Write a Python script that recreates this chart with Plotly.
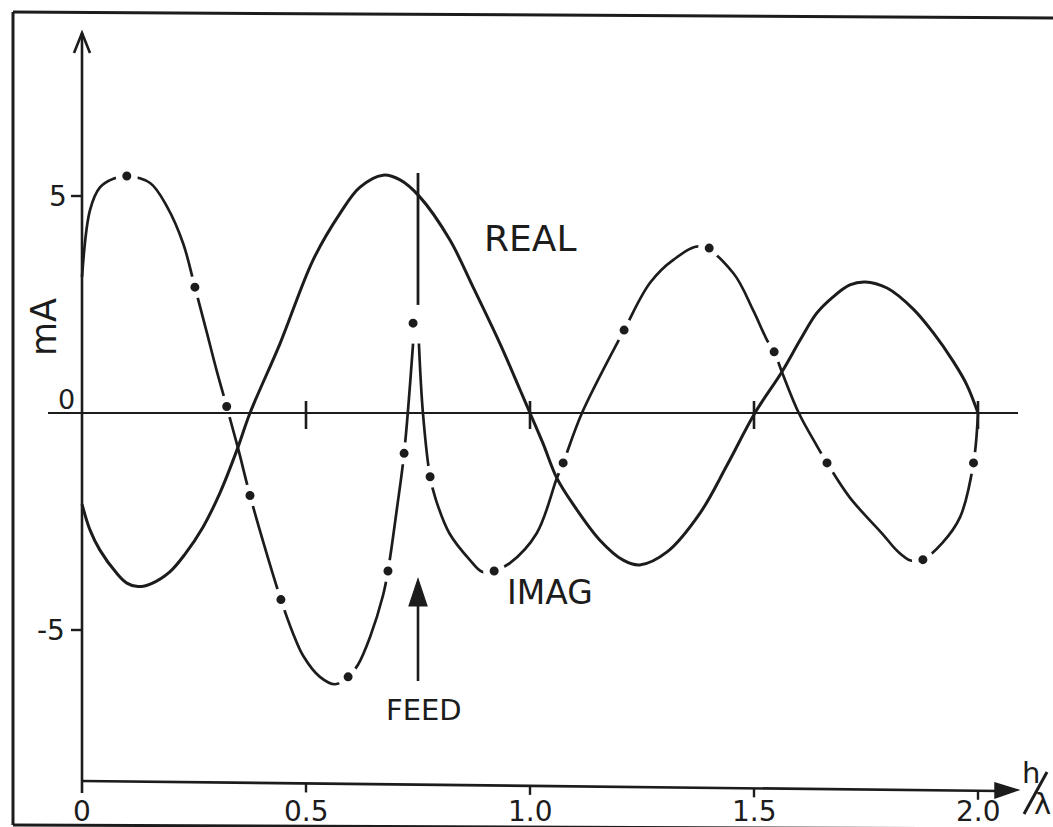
import plotly.graph_objects as go

# ---------------- data ----------------
# REAL part of current (solid line), mA vs h/lambda
real_x = [0, 0.018, 0.04, 0.078, 0.10, 0.125, 0.155, 0.196, 0.23, 0.27, 0.308,
          0.346, 0.375, 0.442, 0.516, 0.576, 0.62, 0.672, 0.71, 0.754, 0.821,
          0.873, 0.933, 0.978, 1.0, 1.029, 1.06, 1.096, 1.156, 1.208, 1.245,
          1.306, 1.38, 1.44, 1.502, 1.5625, 1.603, 1.64, 1.676, 1.714,
          1.748, 1.797, 1.855, 1.9, 1.944, 1.975, 2.0]
real_y = [-2.1, -2.7, -3.16, -3.7, -3.92, -4.0, -3.93, -3.66, -3.25, -2.63, -1.84,
          -0.85, 0.0, 1.6, 3.53, 4.6, 5.2, 5.48, 5.37, 4.98, 3.99,
          2.9, 1.6, 0.53, 0.0, -0.7, -1.5, -2.1, -2.93, -3.39, -3.5,
          -3.2, -2.3, -1.2, 0.0, 0.95, 1.68, 2.3, 2.67, 2.95,
          3.02, 2.88, 2.4, 1.85, 1.2, 0.65, 0.0]

# IMAG part of current (dash-dot line), left of the feed
imag_left_x = [0, 0.018, 0.04, 0.07, 0.10, 0.152, 0.19, 0.226, 0.252, 0.279,
               0.30, 0.323, 0.348, 0.375, 0.404, 0.444, 0.47, 0.494, 0.531,
               0.565, 0.594, 0.616, 0.643, 0.672, 0.683, 0.703, 0.719, 0.739]
imag_left_y = [3.13, 4.68, 5.2, 5.4, 5.46, 5.3, 4.75, 3.9, 2.9, 1.84,
               1.0, 0.15, -0.8, -1.9, -2.95, -4.3, -5.05, -5.6, -6.08,
               -6.25, -6.08, -5.8, -5.16, -4.2, -3.64, -2.2, -0.93, 1.6]

# IMAG part of current, right of the feed
imag_right_x = [0.752, 0.761, 0.777, 0.79, 0.82, 0.866, 0.893, 0.92, 0.955,
                1.015, 1.06, 1.074, 1.116, 1.21, 1.268, 1.32, 1.382, 1.454,
                1.498, 1.529, 1.545, 1.5625, 1.60, 1.64, 1.663, 1.714, 1.788,
                1.82, 1.85, 1.877, 1.92, 1.96, 1.99, 2.0]
imag_right_y = [1.6, 0.0, -1.47, -2.0, -2.77, -3.39, -3.66, -3.64, -3.46,
                -2.77, -1.5, -1.15, 0.0, 1.91, 3.0, 3.53, 3.84, 3.22,
                2.37, 1.68, 1.41, 0.94, 0.0, -0.75, -1.15, -1.95, -2.8,
                -3.18, -3.4, -3.38, -3.0, -2.4, -1.15, 0.0]

# dots of the dash-dot IMAG line
imag_dot_x = [0.10, 0.252, 0.323, 0.375, 0.444, 0.594, 0.683, 0.719, 0.739,
              0.777, 0.92, 1.074, 1.21, 1.40, 1.545, 1.663, 1.877, 1.99]
imag_dot_y = [5.46, 2.9, 0.15, -1.9, -4.3, -6.08, -3.64, -0.93, 2.07,
              -1.47, -3.64, -1.15, 1.91, 3.8, 1.41, -1.15, -3.38, -1.15]

# IMAG spike at the feed point
feed_x = 0.75
feed_spike_y = [2.49, 5.53]

# axis ticks / labels
x_tick_vals = [0, 0.5, 1.0, 1.5, 2.0]
x_tick_text = ["0", "0.5", "1.0", "1.5", "2.0"]
zero_tick_vals = [0.5, 1.0, 1.5, 2.0]
y_tick_vals = [5, -5]
y_tick_text = ["5", "-5"]

# ---------------- layout calibration ----------------
W, H = 1053, 827
X0PX, XSCALE = 82.0, 448.0      # pixel of x=0, pixels per unit
Y0PX, YSCALE = 413.0, 43.4      # pixel of y=0, pixels per unit
x_range = [(0 - X0PX) / XSCALE, (W - X0PX) / XSCALE]
y_range = [(Y0PX - H) / YSCALE, Y0PX / YSCALE]

INK = "#1c1c1c"
FONT = "DejaVu Sans"


def px(x):
    return x / W


def py(y):
    return 1 - y / H


def dy(ypx):
    return (Y0PX - ypx) / YSCALE


def dx(xpx):
    return (xpx - X0PX) / XSCALE


fig = go.Figure()

line_common = dict(color=INK, width=2.7, shape="spline", smoothing=1.0)
fig.add_trace(go.Scatter(x=imag_left_x, y=imag_left_y, mode="lines",
                         line=line_common, hoverinfo="skip"))
fig.add_trace(go.Scatter(x=imag_right_x, y=imag_right_y, mode="lines",
                         line=line_common, hoverinfo="skip"))
fig.add_trace(go.Scatter(x=[feed_x, feed_x], y=feed_spike_y, mode="lines",
                         line=dict(color=INK, width=2.8), hoverinfo="skip"))
fig.add_trace(go.Scatter(x=imag_dot_x, y=imag_dot_y, mode="markers",
                         marker=dict(size=15.5, color=INK,
                                     line=dict(color="white", width=6.5)),
                         hoverinfo="skip"))
fig.add_trace(go.Scatter(x=real_x, y=real_y, mode="lines",
                         line=dict(color=INK, width=3, shape="spline",
                                   smoothing=1.0),
                         hoverinfo="skip"))

shapes = []
# frame
for (x0, y0, x1, y1) in [(13, 12, 13, 825), (13, 12, 1053, 18),
                         (13, 825, 1053, 829)]:
    shapes.append(dict(type="line", xref="paper", yref="paper",
                       x0=px(x0), y0=py(y0), x1=px(x1), y1=py(y1),
                       line=dict(color=INK, width=3)))
# y axis with open arrow
shapes.append(dict(type="line", xref="x", yref="y", x0=0, x1=0,
                   y0=dy(793), y1=dy(33), line=dict(color=INK, width=2.6)))
shapes.append(dict(type="path", xref="paper", yref="paper",
                   path=f"M {px(74)},{py(53)} L {px(82)},{py(33)} L {px(90)},{py(53)}",
                   line=dict(color=INK, width=2.6)))
# y ticks
for v in y_tick_vals:
    shapes.append(dict(type="line", xref="x", yref="y", x0=dx(71), x1=0,
                       y0=v, y1=v, line=dict(color=INK, width=2.4)))
# zero line + its ticks
shapes.append(dict(type="line", xref="x", yref="y", x0=dx(48), x1=dx(1018),
                   y0=0, y1=0, line=dict(color=INK, width=2.2), layer="above"))
for v in zero_tick_vals:
    shapes.append(dict(type="line", xref="x", yref="y", x0=v, x1=v,
                       y0=dy(401), y1=dy(429), line=dict(color=INK, width=2.6),
                       layer="above"))
# bottom h/lambda axis (slightly sloping hand-drawn line)
ax_y0, ax_y1 = dy(781), dy(791)
ax_x1 = dx(1000)


def axis_y(x):
    return ax_y0 + (ax_y1 - ax_y0) * x / ax_x1


shapes.append(dict(type="line", xref="x", yref="y", x0=0, x1=ax_x1,
                   y0=ax_y0, y1=ax_y1, line=dict(color=INK, width=2.6)))
shapes.append(dict(type="path", xref="paper", yref="paper",
                   path=(f"M {px(995)},{py(783)} L {px(1018)},{py(790)} "
                         f"L {px(995)},{py(798)} Z"),
                   fillcolor=INK, line=dict(color=INK, width=1.5)))
for v in x_tick_vals[1:]:
    yy = axis_y(v)
    shapes.append(dict(type="line", xref="x", yref="y", x0=v, x1=v,
                       y0=yy, y1=yy - 9 / YSCALE, line=dict(color=INK, width=2.4)))
# feed arrow
shapes.append(dict(type="line", xref="paper", yref="paper",
                   x0=px(418), x1=px(418), y0=py(681), y1=py(600),
                   line=dict(color=INK, width=2.6)))
shapes.append(dict(type="path", xref="paper", yref="paper",
                   path=(f"M {px(409)},{py(606)} L {px(418)},{py(579)} "
                         f"L {px(427)},{py(606)} Z"),
                   fillcolor=INK, line=dict(color=INK, width=1.2)))
# slash of h/lambda
shapes.append(dict(type="line", xref="paper", yref="paper",
                   x0=px(1024), y0=py(814), x1=px(1047), y1=py(772),
                   line=dict(color=INK, width=3)))

annotations = []


def txt(text, x, y, size, xref="paper", yref="paper", angle=0):
    annotations.append(dict(text=text, x=x, y=y, xref=xref, yref=yref,
                            showarrow=False, xanchor="center", yanchor="middle",
                            textangle=angle,
                            font=dict(family=FONT, size=size, color=INK)))


for v, t in zip(x_tick_vals, x_tick_text):
    txt(t, v, py(811), 28, xref="x")
for v, t in zip(y_tick_vals, y_tick_text):
    txt(t, px(58 if v > 0 else 51), v, 28, yref="y")
txt("0", px(66), py(399), 27)
txt("mA", px(44), py(327), 35, angle=-90)
txt("REAL", px(530), py(238), 36)
txt("IMAG", px(550), py(592), 33)
txt("FEED", px(424), py(710), 29)
txt("h", px(1031), py(773), 29)
txt("λ", px(1042), py(804), 29)

fig.update_layout(
    width=W, height=H, autosize=False,
    margin=dict(l=0, r=0, t=0, b=0, pad=0),
    paper_bgcolor="white", plot_bgcolor="white",
    showlegend=False,
    xaxis=dict(range=x_range, visible=False, fixedrange=True),
    yaxis=dict(range=y_range, visible=False, fixedrange=True),
    shapes=shapes, annotations=annotations,
)

fig.write_html("out.html", config={"displayModeBar": False})
